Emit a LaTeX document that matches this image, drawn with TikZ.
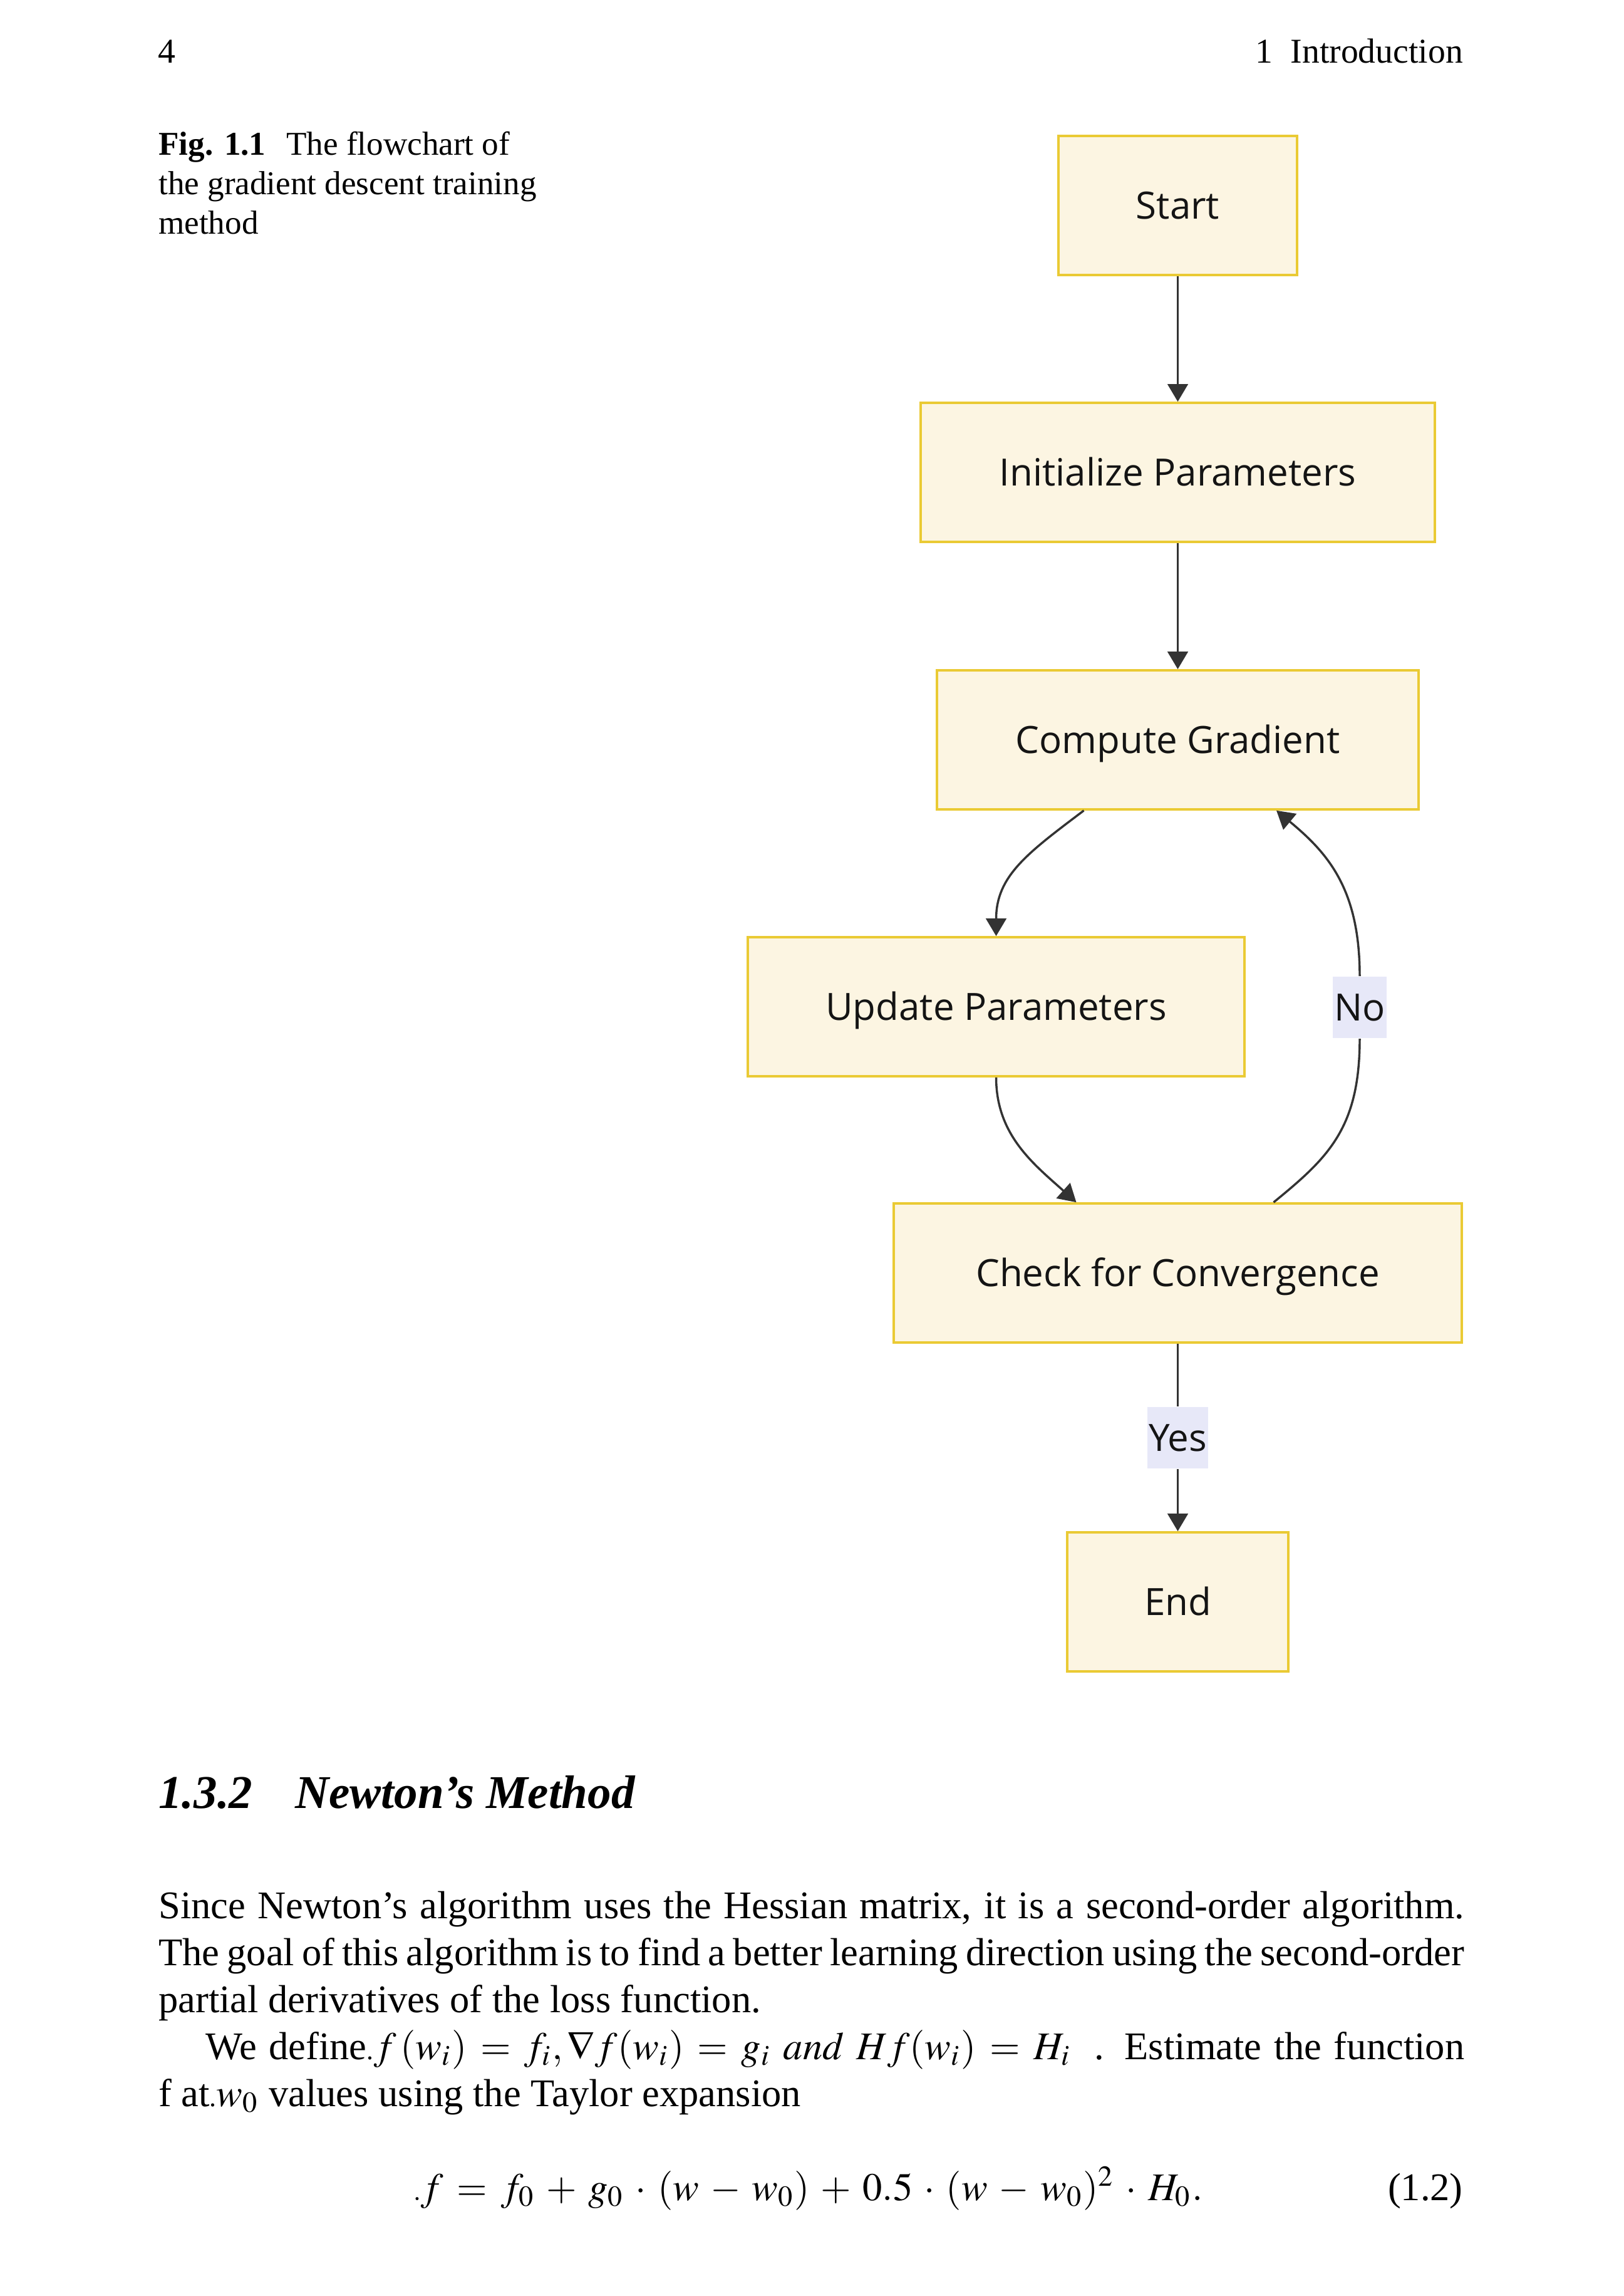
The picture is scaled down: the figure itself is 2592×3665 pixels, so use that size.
\documentclass[tikz,border=0pt]{standalone}
\usepackage{mathptmx}
\usepackage[no-math]{fontspec}
\setmainfont{Liberation Serif}
\newfontfamily\chartfont{Open Sans}
\usetikzlibrary{arrows.meta,calc}
\AtBeginDocument{\medmuskip=5.2mu\relax\thickmuskip=6.2mu\relax}

\definecolor{boxfill}{RGB}{252,245,226}
\definecolor{boxline}{RGB}{234,202,52}
\definecolor{labelfill}{RGB}{231,232,248}
\definecolor{arrowgray}{RGB}{51,51,51}
\definecolor{chartink}{RGB}{20,20,20}

\tikzset{
  flowbox/.style={draw=boxline, fill=boxfill, line width=0.6pt, minimum height=35.5pt,
    inner sep=0pt, text height=6.9pt, text depth=0pt, text=chartink,
    font=\chartfont\fontsize{9.6}{11}\selectfont},
  edgelabel/.style={fill=labelfill, inner xsep=0.4pt, inner ysep=0pt, minimum height=15.6pt,
    text height=6.9pt, text depth=0pt, text=chartink, font=\chartfont\fontsize{9.6}{11}\selectfont},
  flowline/.style={draw=arrowgray, line width=0.55pt},
  flowarrow/.style={flowline, -{Triangle[length=4.5pt,width=5.2pt]}},
  headtext/.style={inner sep=0pt, anchor=base west, font=\fontsize{8.9}{10}\selectfont},
  captext/.style={inner sep=0pt, anchor=base west, font=\fontsize{8.5}{10}\selectfont},
  secfont/.style={inner sep=0pt, anchor=base west, font=\fontsize{12}{14}\selectfont\bfseries\itshape},
  bodytext/.style={inner sep=0pt, anchor=base west, font=\fontsize{10}{12}\selectfont}
}

\begin{document}
\begin{tikzpicture}[x=0.16pt,y=-0.16pt]
\fill[white] (0,0) rectangle (2592,3665);
\useasboundingbox (0,0) rectangle (2592,3665);

% running head
\node[headtext] (pagenum) at (251,101) {4};
\node[headtext] (chapnum) at (2003,101) {1};
\node[headtext,anchor=base east] (chaptitle) at (2337,101) {Introduction};

% caption
\node[captext] (figtag) at (252,248) {\textbf{Fig. 1.1}};
\node[captext] (cap1) at (456,248) {The flowchart of};
\node[captext] (cap2) at (252,311) {the gradient descent training};
\node[captext] (cap3) at (252,374) {method};

% flowchart
\node[flowbox,minimum width=61pt] (start) at (1880.5,328) {Start};
\node[flowbox,minimum width=131.4pt] (init) at (1880.5,754) {Initialize Parameters};
\node[flowbox,minimum width=123pt] (cg) at (1880.5,1181) {Compute Gradient};
\node[flowbox,minimum width=126.9pt] (up) at (1590.5,1607) {Update Parameters};
\node[flowbox,minimum width=145.1pt] (conv) at (1880.5,2032) {Check for Convergence};
\node[flowbox,minimum width=56.5pt] (stop) at (1880.5,2557) {End};

\node[edgelabel] (no) at (2171,1608) {No};
\node[edgelabel] (yes) at (1880.5,2295) {Yes};

\draw[flowarrow] (start) -- (init);
\draw[flowarrow] (init) -- (cg);
\draw[flowarrow] ($(cg.south)+(-150,0)$) .. controls +(-90,68) and +(0,-96) .. (up.north);
\draw[flowarrow] (up.south) .. controls +(0,92) and +(-68,-61) .. ($(conv.north)+(-162,0)$);
\draw[flowline] ($(conv.north)+(153,0)$) .. controls +(87,-71) and +(0,143) .. (no.south);
\draw[flowarrow] (no.north) .. controls +(0,-139) and +(82,68) .. ($(cg.south)+(157.5,0)$);
\draw[flowline] (conv) -- (yes);
\draw[flowarrow] (yes) -- (stop);

% section text
\node[secfont] (secnum) at (252,2886) {1.3.2};
\node[secfont] (sectitle) at (470,2886) {Newton's Method};

\node[bodytext] (line1) at (252,3062) {\makebox[333.6pt][s]{Since Newton's algorithm uses the Hessian matrix, it is a second-order algorithm.}};
\node[bodytext] (line2) at (252,3137) {\makebox[333.6pt][s]{The goal of this algorithm is to find a better learning direction using the second-order}};
\node[bodytext] (line3) at (252,3212) {partial derivatives of the loss function.};
\node[bodytext] (line4) at (327,3287) {\makebox[321.6pt][s]{We define{\scriptsize.}$f\,(w_i) = f_i, \nabla f(w_i) = g_i\ and\ Hf(w_i) = H_i$\hspace{6pt}. Estimate the function}};
\node[bodytext] (line5) at (252,3362) {f at{\scriptsize.}$w_0$ values using the Taylor expansion};

\node[bodytext,anchor=base] (eqn) at (1290,3512) {${\scriptstyle.}f = f_0 + g_0 \cdot (w - w_0) + 0.5 \cdot (w - w_0)^2 \cdot H_0.$};
\node[bodytext,anchor=base east] (eqnum) at (2337,3512) {(1.2)};
\end{tikzpicture}
\end{document}
